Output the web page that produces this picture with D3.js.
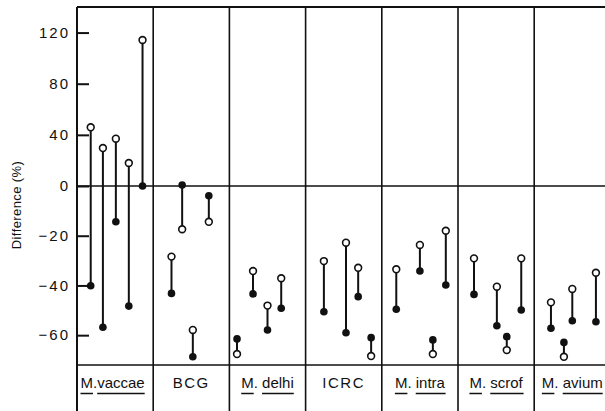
<!DOCTYPE html>
<html lang="en">
<head>
    <meta charset="UTF-8">
    <title>Difference (%) by strain</title>
    <script type="text/javascript" src="https://cdnjs.cloudflare.com/ajax/libs/d3/7.8.5/d3.min.js"></script>
    <style>
        body { margin: 0; background: #fff; }
        svg { display: block; font-family: "Liberation Sans", Arial, sans-serif; }
        .tick text { font-size: 15px; letter-spacing: 2px; fill: #111; }
        .tick line { stroke: #111; stroke-width: 2; }
    </style>
</head>
<body>
<div id="chart"></div>
<script>
    // Strain panels
    const categories = ["M.vaccae", "BCG", "M. delhi", "ICRC", "M. intra", "M. scrof", "M. avium"];

    // horizontal slot of each pair inside its panel (0..10)
    const slots = [
        [1.8, 3.4, 5.1, 6.8, 8.6],
        [2.4, 3.8, 5.2, 7.3],
        [1.0, 3.1, 5.0, 6.8],
        [2.4, 5.3, 6.9, 8.6],
        [1.9, 5.0, 6.7, 8.4],
        [2.1, 5.1, 6.4, 8.3],
        [2.2, 3.9, 5.0, 8.1]
    ];

    // open circles
    const openValues = [
        [45.9, 29.7, 37.0, 18.0, 114.2],
        [-28.4, -17.4, -57.9, -14.4],
        [-67.6, -34.2, -48.1, -37.1],
        [-30.2, -22.8, -32.9, -68.4],
        [-33.5, -23.7, -67.6, -18.0],
        [-29.1, -40.5, -66.0, -29.1],
        [-46.8, -68.7, -41.4, -34.9]
    ];

    // filled circles
    const filledValues = [
        [-40.1, -56.8, -14.4, -48.3, 0],
        [-43.2, 0.8, -68.7, -3.9],
        [-61.5, -43.4, -57.9, -49.2],
        [-50.6, -59.0, -44.5, -61.0],
        [-49.6, -34.2, -61.9, -39.8],
        [-43.6, -56.2, -60.6, -49.9],
        [-57.2, -62.9, -54.2, -54.6]
    ];

    const yTicks = [120, 80, 40, 0, -20, -40, -60];

    const width = 605;
    const height = 411;
    const plotLeft = 77, plotTop = 7, plotBottom = 365;
    const step = 76.2;

    const svg = d3.select("#chart")
        .append("svg")
        .attr("width", width)
        .attr("height", height);

    const x = d3.scaleBand()
        .domain(categories)
        .range([plotLeft, plotLeft + step * categories.length])
        .paddingInner(0);

    const slotX = d3.scaleLinear()
        .domain([0, 10])
        .range([0, x.bandwidth()]);

    // the axis is stretched below zero
    const y = d3.scaleLinear()
        .domain([-72, 0, 140])
        .range([plotBottom, 186, plotTop]);

    const plotRight = plotLeft + step * categories.length;

    // frame and panel dividers
    svg.append("line")
        .attr("x1", plotLeft).attr("x2", plotRight)
        .attr("y1", plotTop).attr("y2", plotTop)
        .attr("stroke", "#111").attr("stroke-width", 2);

    svg.append("g")
        .selectAll("line")
        .data(categories)
        .enter()
        .append("line")
        .attr("x1", d => x(d)).attr("x2", d => x(d))
        .attr("y1", plotTop).attr("y2", height)
        .attr("stroke", "#111")
        .attr("stroke-width", (d, i) => i === 0 ? 2 : 1.6);

    svg.append("line")
        .attr("x1", plotLeft).attr("x2", plotRight)
        .attr("y1", plotBottom).attr("y2", plotBottom)
        .attr("stroke", "#111").attr("stroke-width", 1.6);

    // zero line
    svg.append("line")
        .attr("x1", plotLeft).attr("x2", plotRight)
        .attr("y1", y(0)).attr("y2", y(0))
        .attr("stroke", "#111").attr("stroke-width", 1.6);

    // y axis, ticks pointing inwards
    const yAxis = d3.axisLeft(y)
        .tickValues(yTicks)
        .tickSizeInner(-12)
        .tickSizeOuter(0)
        .tickPadding(7)
        .tickFormat(d => d < 0 ? "\u2212" + Math.abs(d) : d);

    const axisG = svg.append("g")
        .attr("transform", `translate(${plotLeft},0)`)
        .call(yAxis);
    axisG.select(".domain").remove();
    axisG.attr("font-family", null).attr("font-size", null);

    svg.append("text")
        .attr("transform", "translate(21,205) rotate(-90)")
        .attr("text-anchor", "middle")
        .attr("font-size", 13)
        .attr("letter-spacing", 0.4)
        .attr("fill", "#111")
        .text("Difference (%)");

    // pairs
    const pairs = [];
    categories.forEach((c, i) => {
        slots[i].forEach((s, j) => {
            pairs.push({ cat: c, slot: s, open: openValues[i][j], filled: filledValues[i][j] });
        });
    });

    const px = d => x(d.cat) + slotX(d.slot);

    const g = svg.append("g");

    g.selectAll("line.stem")
        .data(pairs)
        .enter()
        .append("line")
        .attr("class", "stem")
        .attr("x1", px).attr("x2", px)
        .attr("y1", d => y(d.open)).attr("y2", d => y(d.filled))
        .attr("stroke", "#111")
        .attr("stroke-width", 2);

    g.selectAll("circle.filled")
        .data(pairs)
        .enter()
        .append("circle")
        .attr("class", "filled")
        .attr("cx", px).attr("cy", d => y(d.filled))
        .attr("r", 3.8)
        .attr("fill", "#111");

    g.selectAll("circle.open")
        .data(pairs)
        .enter()
        .append("circle")
        .attr("class", "open")
        .attr("cx", px).attr("cy", d => y(d.open))
        .attr("r", 3.4)
        .attr("fill", "#fff")
        .attr("stroke", "#111")
        .attr("stroke-width", 1.6);

    // panel labels, genus and species underlined
    categories.forEach(c => {
        const t = svg.append("text")
            .attr("x", x(c) + x.bandwidth() / 2 - (c === "M.vaccae" ? 2.5 : 0))
            .attr("y", 388)
            .attr("text-anchor", "middle")
            .attr("font-size", 15)
            .attr("fill", "#111");

        let parts;
        if (c.startsWith("M.")) {
            const rest = c.slice(2);
            const gap = rest.startsWith(" ") ? " " : "";
            parts = [["M", true], ["." + gap, false], [rest.trim(), true]];
        } else {
            parts = [[c, false]];
            t.attr("letter-spacing", 1.5);
        }

        const spans = parts.map(p => t.append("tspan").text(p[0]).datum(p[1]));
        spans.forEach(s => {
            if (!s.datum()) return;
            const b = s.node().getBBox();
            svg.append("line")
                .attr("x1", b.x).attr("x2", b.x + b.width)
                .attr("y1", 393.5).attr("y2", 393.5)
                .attr("stroke", "#111")
                .attr("stroke-width", 1.5);
        });
    });
</script>
</body>
</html>
